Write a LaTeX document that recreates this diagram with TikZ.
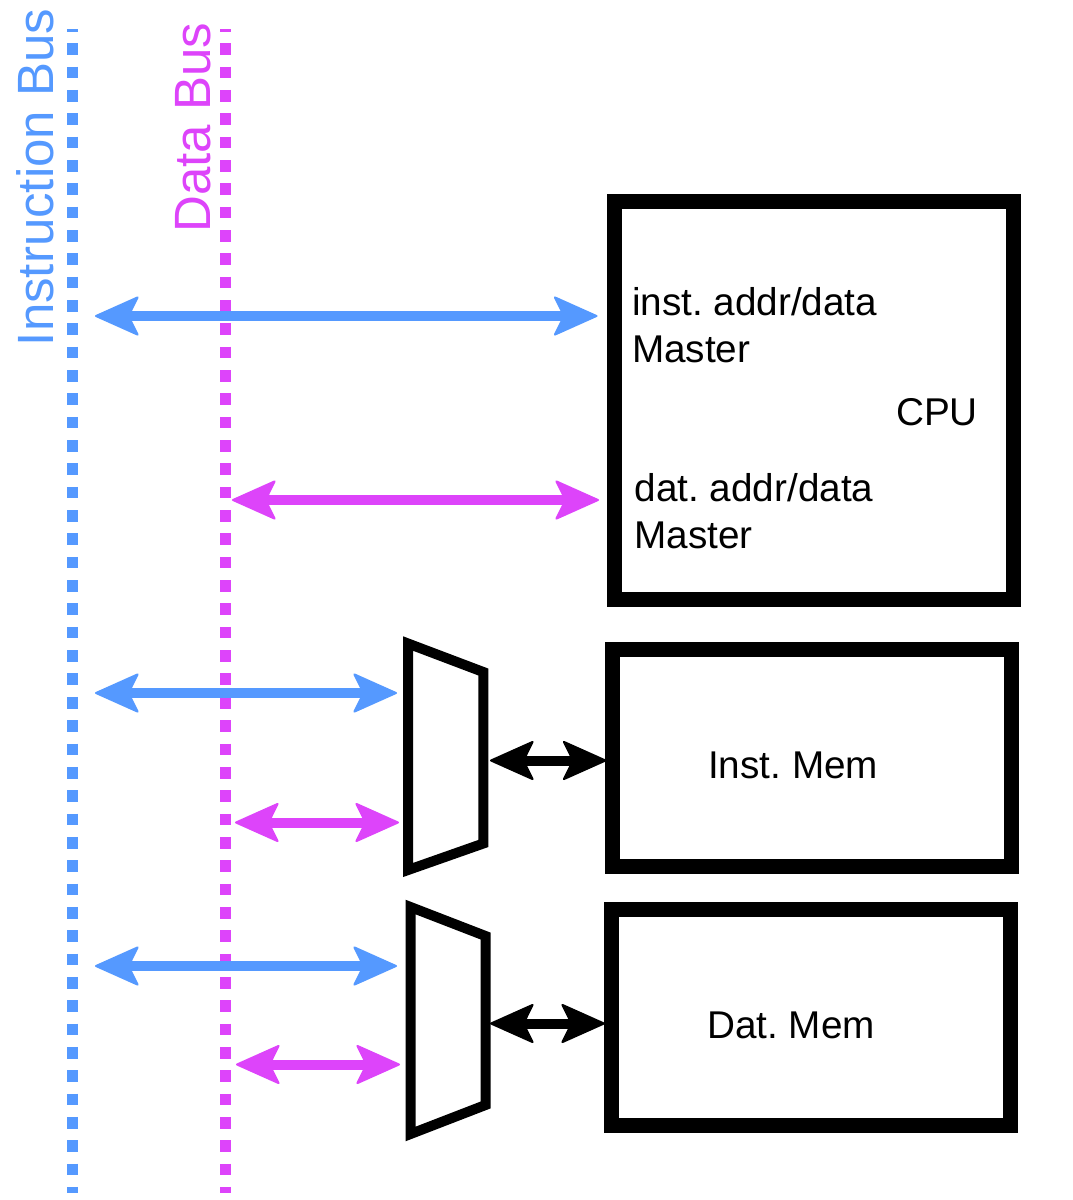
\documentclass[tikz,border=0pt]{standalone}
\usepackage{fontspec}
\setmainfont{Liberation Sans}
\usepackage{tikz}
\usetikzlibrary{arrows.meta}

\definecolor{ibus}{HTML}{5599FF}
\definecolor{dbus}{HTML}{DD44FA}
\frenchspacing

\begin{document}
\begin{tikzpicture}[x=1pt,y=-1pt,
		bus/.style={line width=11pt, dash pattern=on 11.67pt off 11.67pt, dash phase=9.33pt},
		link/.style={line width=10pt, {Stealth[length=46pt,width=41pt,inset=10pt,line width=2pt,round]}-{Stealth[length=46pt,width=41pt,inset=10pt,line width=2pt,round]}},
		box/.style={draw, line width=15pt, inner sep=0pt},
		mux/.style={draw, line width=10pt},
		lbl/.style={font=\fontsize{38.7}{46}\selectfont, inner sep=0pt, anchor=base west},
		buslbl/.style={font=\fontsize{51}{61}\selectfont, inner sep=0pt, rotate=90, anchor=base}]
	\useasboundingbox (0,0) rectangle (1072,1200);
	%
	\coordinate (itop) at (72.7,29.3);
	\coordinate (ibot) at (72.7,1193);
	\coordinate (dtop) at (225.7,29.3);
	\coordinate (dbot) at (225.7,1193);
	\draw[bus, ibus] (itop) -- (ibot);
	\draw[bus, dbus] (dtop) -- (dbot);
	\node[buslbl, ibus] (ilabel) at (53.3,177.5) {Instruction Bus};
	\node[buslbl, dbus] (dlabel) at (210,127.5) {Data Bus};
	%
	\node[box, minimum width=398.9pt, minimum height=397.4pt] (cpu) at (813.75,400.5) {};
	\node[box, minimum width=398.7pt, minimum height=216.8pt] (imem) at (812.15,757.6) {};
	\node[box, minimum width=398.4pt, minimum height=216pt] (dmem) at (811,1017.2) {};
	\node[lbl] (imaster) at (631.8,315) {inst. addr/data};
	\node[lbl] (imaster2) at ([yshift=-47.7pt]imaster.base west) {Master};
	\node[lbl] (cpulbl) at (896,425) {CPU};
	\node[lbl] (dmaster) at (634.4,501.7) {dat. addr/data};
	\node[lbl] (dmaster2) at ([yshift=-46.6pt]dmaster.base west) {Master};
	\node[lbl] (imemlbl) at (708,778.3) {Inst. Mem};
	\node[lbl] (dmemlbl) at (707,1038.3) {Dat. Mem};
	%
	\draw[mux] (408,643.5) -- ++(75.3,28.5) -- ++(0,171.5) -- ++(-75.3,26.5) -- cycle;
	\draw[mux] (410.5,907) -- ++(75,29) -- ++(0,169) -- ++(-75,29) -- cycle;
	%
	\coordinate (ia1) at (95,316);     \coordinate (ib1) at (597.5,316);
	\coordinate (da1) at (232,500);    \coordinate (db1) at (599,500);
	\coordinate (ia2) at (95,693);     \coordinate (ib2) at (397,693);
	\coordinate (da2) at (235,822.5);  \coordinate (db2) at (399,822.5);
	\coordinate (ma1) at (490,760.5);  \coordinate (mb1) at (606.5,760.5);
	\coordinate (ia3) at (95,966);     \coordinate (ib3) at (397,966);
	\coordinate (da3) at (236,1064.5); \coordinate (db3) at (400,1064.5);
	\coordinate (ma2) at (490,1023.5); \coordinate (mb2) at (605,1023.5);
	\draw[link, ibus] (ia1) -- (ib1);
	\draw[link, dbus] (da1) -- (db1);
	\draw[link, ibus] (ia2) -- (ib2);
	\draw[link, dbus] (da2) -- (db2);
	\draw[link] (ma1) -- (mb1);
	\draw[link, ibus] (ia3) -- (ib3);
	\draw[link, dbus] (da3) -- (db3);
	\draw[link] (ma2) -- (mb2);
\end{tikzpicture}
\end{document}
